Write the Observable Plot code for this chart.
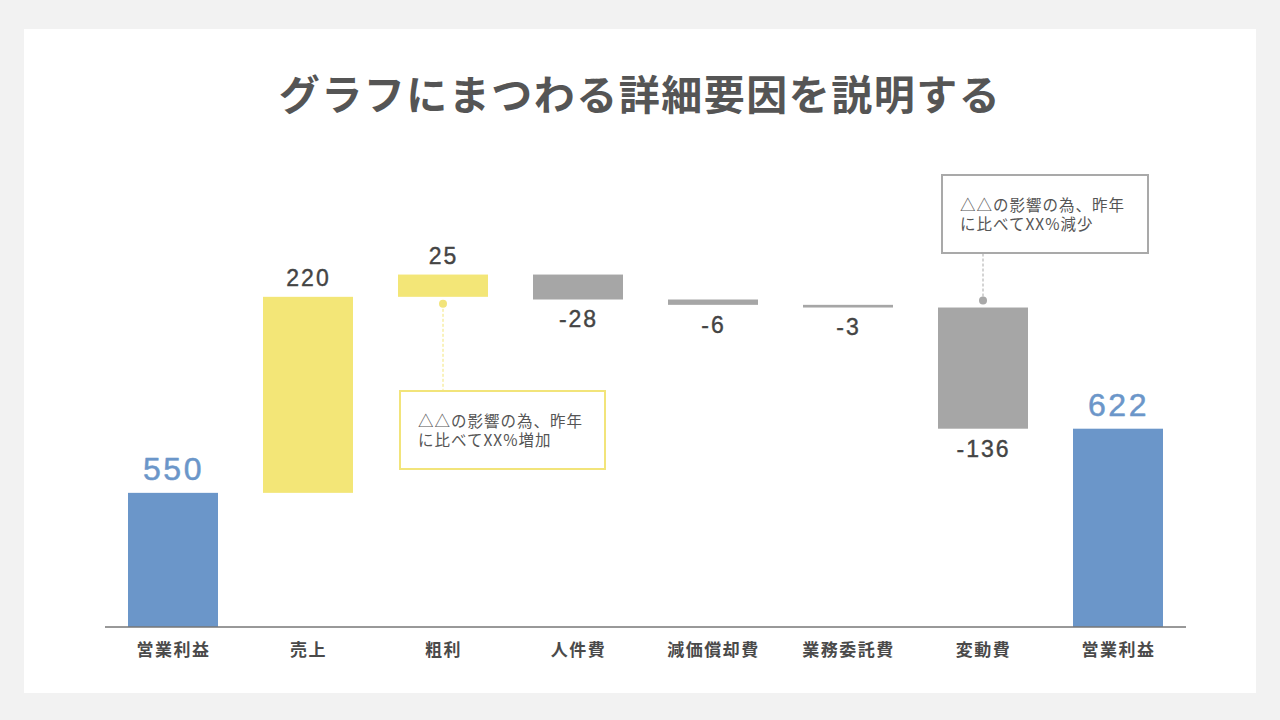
<!DOCTYPE html>
<html><head><meta charset="utf-8">
<script src="https://cdn.jsdelivr.net/npm/d3@7"></script>
<script src="https://cdn.jsdelivr.net/npm/@observablehq/plot@0.6"></script>
<style>
html,body{margin:0;padding:0;background:#f2f2f2;}
#page{position:relative;width:1280px;height:720px;overflow:hidden;font-family:"Noto Sans CJK JP","Noto Sans",sans-serif;}
#card{position:absolute;left:24px;top:29px;width:1232px;height:664px;background:#fff;}
#title{position:absolute;left:0;top:66px;width:1280px;text-align:center;font-size:41px;font-weight:700;color:#555;letter-spacing:1.5px;line-height:52px;}
#chart{position:absolute;left:0;top:0;}
#chart g[aria-label="x-axis tick label"] text{letter-spacing:1.5px;}
#chart g.num text{letter-spacing:2px;}
#chart g.tot text{letter-spacing:2.5px;}
.note{position:absolute;box-sizing:border-box;border:2px solid;display:block;padding-left:17px;font-size:15.5px;line-height:18.5px;color:#555;letter-spacing:1px;background:#fff;white-space:nowrap;}
</style></head>
<body>
<div id="page">
  <div id="card"></div>
  <div id="title">グラフにまつわる詳細要因を説明する</div>
  <div id="chart"></div>
</div>
<script>
// ---- data ----
const categories = ["営業利益","売上","粗利","人件費","減価償却費","業務委託費","変動費","営業利益"];
const values = [550, 220, 25, -28, -6, -3, -136, 622];
const kinds = ["total","delta","delta","delta","delta","delta","delta","total"];
const axisStart = 400;
const axisEnd = 900;
const notes = [
  {index: 2, side: "below", lines: ["△△の影響の為、昨年", "に比べてXX%増加"], color: "#f2e47a"},
  {index: 6, side: "above", lines: ["△△の影響の為、昨年", "に比べてXX%減少"], color: "#a9a9a9"}
];

const colors = {total: "#6b96c9", up: "#f3e677", down: "#a6a6a6"};

// build waterfall rows
let run = 0;
const rows = values.map((v, i) => {
  let start, end;
  if (kinds[i] === "total") { start = 0; end = v; run = v; }
  else { start = run; end = run + v; run = end; }
  const kind = kinds[i] === "total" ? "total" : (v >= 0 ? "up" : "down");
  return {i, cat: categories[i], value: v, start, end, top: Math.max(start, end), bottom: Math.min(start, end), kind};
});

const font = '"Noto Sans CJK JP","Noto Sans",sans-serif';
const numFont = '"Liberation Sans","DejaVu Sans",sans-serif';

const chart = Plot.plot({
  width: 1280, height: 720,
  marginLeft: 105, marginRight: 95, marginTop: 181, marginBottom: 93.5,
  x: {type: "band", domain: d3.range(categories.length), paddingInner: 1/3, paddingOuter: 1/6, axis: null},
  y: {domain: [axisStart, axisEnd], axis: null},
  style: {background: "transparent", fontFamily: font, overflow: "visible"},
  marks: [
    Plot.rectY(rows, {x: "i", y1: "start", y2: "end", fill: d => colors[d.kind], clip: true}),
    Plot.frame({anchor: "bottom", stroke: "#333", strokeWidth: 1}),
    Plot.text(rows.filter(d => d.kind === "up"), {x: "i", y: "top", text: d => String(d.value), lineAnchor: "bottom", dy: -11, fontSize: 23, fill: "#444", stroke: "#444", strokeWidth: 0.4, fontFamily: numFont, className: "num"}),
    Plot.text(rows.filter(d => d.kind === "down"), {x: "i", y: "bottom", text: d => String(d.value), lineAnchor: "top", dy: 11, fontSize: 23, fill: "#444", stroke: "#444", strokeWidth: 0.4, fontFamily: numFont, className: "num"}),
    Plot.text(rows.filter(d => d.kind === "total"), {x: "i", y: "top", text: d => String(d.value), lineAnchor: "bottom", dy: -13, fontSize: 32, fill: colors.total, stroke: colors.total, strokeWidth: 0.5, fontFamily: numFont, className: "tot"}),
    Plot.axisX({tickSize: 0, tickPadding: 17, fontSize: 17, fontWeight: 600, tickFormat: i => categories[i], fill: "#4a4a4a", label: null})
  ]
});
document.getElementById("chart").appendChild(chart);

// ---- annotations positioned from the chart's scales ----
const sx = chart.scale("x"), sy = chart.scale("y");
const svg = d3.select(chart);
const page = document.getElementById("page");
notes.forEach(n => {
  const r = rows[n.index];
  const cx = sx.apply(n.index) + sx.bandwidth / 2;
  let dotY, boxTop, boxLeft, boxW, boxH, lineY1, lineY2;
  if (n.side === "below") {
    dotY = sy.apply(r.bottom) + 7;
    boxW = 207; boxH = 80;
    boxTop = dotY + 86; boxLeft = cx - 44;
    lineY1 = dotY; lineY2 = boxTop;
  } else {
    dotY = sy.apply(r.top) - 7;
    boxW = 208; boxH = 80;
    boxTop = dotY - 47 - boxH; boxLeft = cx - 42;
    lineY1 = boxTop + boxH; lineY2 = dotY;
  }
  svg.append("line").attr("x1", cx).attr("x2", cx).attr("y1", lineY1).attr("y2", lineY2)
    .attr("stroke", n.color).attr("stroke-width", 1).attr("stroke-dasharray", "3,2");
  svg.append("circle").attr("cx", cx).attr("cy", dotY).attr("r", 4).attr("fill", n.color);
  const div = document.createElement("div");
  div.className = "note";
  div.style.left = boxLeft + "px"; div.style.top = boxTop + "px";
  div.style.width = boxW + "px"; div.style.height = boxH + "px";
  div.style.paddingTop = ((boxH - 4 - 18.5 * n.lines.length) / 2) + "px";
  div.style.borderColor = n.color;
  n.lines.forEach((l, k) => { if (k) div.appendChild(document.createElement("br")); div.appendChild(document.createTextNode(l)); });
  page.appendChild(div);
});
</script>
</body></html>
